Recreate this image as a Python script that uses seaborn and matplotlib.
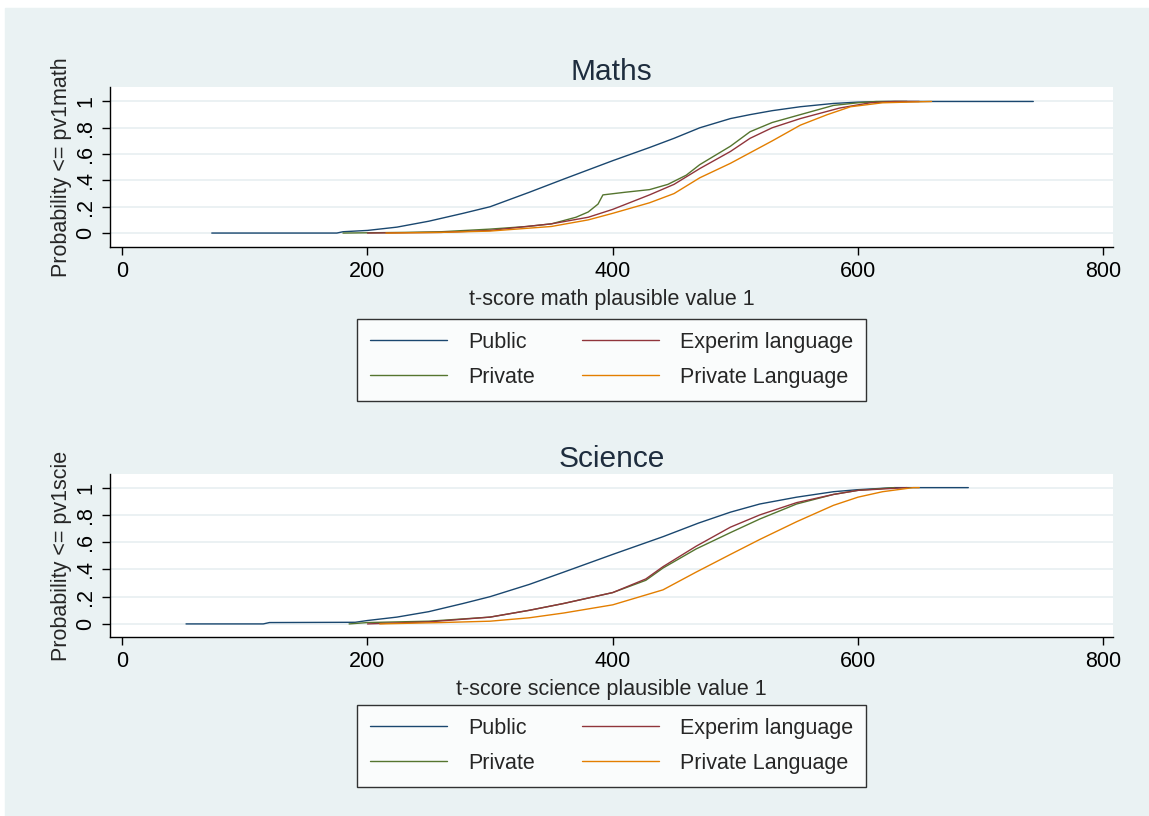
"""
Cumulative distributions of PISA plausible values by school type (Stata-style look).
"""
import pandas as pd
import seaborn as sns
import matplotlib.pyplot as plt
from matplotlib.patches import Rectangle

# --- values: (score, cumulative probability) ---
math_public_x = [73, 175, 180, 200, 224, 250, 278, 300, 332, 360, 400, 430, 450, 471, 496, 512, 530, 553, 580, 600, 625, 743]
math_public_p = [0, 0, 0.01, 0.02, 0.045, 0.09, 0.15, 0.20, 0.31, 0.41, 0.55, 0.65, 0.72, 0.80, 0.87, 0.90, 0.93, 0.96, 0.985, 0.995, 1.0, 1.0]

math_private_x = [180, 230, 260, 300, 330, 350, 370, 380, 388, 392, 410, 430, 445, 460, 471, 496, 512, 530, 553, 580, 600, 615, 640]
math_private_p = [0, 0.005, 0.01, 0.03, 0.05, 0.07, 0.12, 0.16, 0.22, 0.29, 0.31, 0.33, 0.37, 0.44, 0.52, 0.66, 0.77, 0.84, 0.90, 0.97, 0.99, 1.0, 1.0]

math_experim_x = [200, 260, 300, 350, 380, 400, 430, 450, 471, 496, 512, 530, 553, 585, 610, 630, 650]
math_experim_p = [0, 0.005, 0.02, 0.07, 0.12, 0.18, 0.29, 0.37, 0.49, 0.62, 0.72, 0.80, 0.87, 0.95, 0.99, 1.0, 1.0]

math_privlang_x = [215, 260, 300, 350, 380, 400, 430, 450, 471, 496, 512, 530, 553, 575, 594, 620, 660]
math_privlang_p = [0, 0.005, 0.015, 0.05, 0.10, 0.15, 0.23, 0.30, 0.42, 0.53, 0.61, 0.70, 0.82, 0.90, 0.96, 0.99, 1.0]

sci_public_x = [52, 115, 120, 190, 200, 224, 250, 278, 300, 332, 360, 400, 441, 470, 496, 520, 550, 580, 600, 630, 690]
sci_public_p = [0, 0, 0.01, 0.012, 0.025, 0.05, 0.09, 0.15, 0.20, 0.29, 0.38, 0.51, 0.64, 0.74, 0.82, 0.88, 0.93, 0.97, 0.985, 1.0, 1.0]

sci_private_x = [185, 200, 250, 300, 332, 360, 400, 427, 441, 468, 496, 520, 550, 580, 600, 630]
sci_private_p = [0, 0.01, 0.02, 0.05, 0.10, 0.15, 0.23, 0.32, 0.41, 0.55, 0.67, 0.77, 0.88, 0.95, 0.98, 1.0]

sci_experim_x = [200, 250, 300, 332, 360, 400, 427, 441, 468, 496, 520, 550, 580, 600, 640]
sci_experim_p = [0, 0.015, 0.05, 0.10, 0.15, 0.23, 0.33, 0.42, 0.57, 0.71, 0.80, 0.89, 0.95, 0.98, 1.0]

sci_privlang_x = [210, 260, 300, 332, 360, 400, 441, 468, 496, 520, 550, 580, 600, 620, 645, 650]
sci_privlang_p = [0, 0.01, 0.02, 0.045, 0.08, 0.14, 0.25, 0.38, 0.51, 0.62, 0.75, 0.87, 0.93, 0.97, 1.0, 1.0]

groups = ["Public", "Private", "Experim language", "Private Language"]
x_ticks = [0, 200, 400, 600, 800]
y_ticks = [0, 0.2, 0.4, 0.6, 0.8, 1]
y_tick_labels = ["0", ".2", ".4", ".6", ".8", "1"]

# stata s2color
palette = {"Public": "#1a476f", "Private": "#55752f",
           "Experim language": "#90353b", "Private Language": "#e37e00"}
BG = "#eaf2f3"
FS = 15.5


def long_df(series):
    frames = []
    for name, (xs, ps) in series.items():
        frames.append(pd.DataFrame({"score": xs, "prob": ps, "group": name}))
    return pd.concat(frames, ignore_index=True)


math_df = long_df({"Public": (math_public_x, math_public_p),
                   "Private": (math_private_x, math_private_p),
                   "Experim language": (math_experim_x, math_experim_p),
                   "Private Language": (math_privlang_x, math_privlang_p)})
sci_df = long_df({"Public": (sci_public_x, sci_public_p),
                  "Private": (sci_private_x, sci_private_p),
                  "Experim language": (sci_experim_x, sci_experim_p),
                  "Private Language": (sci_privlang_x, sci_privlang_p)})

sns.set_style("white")
plt.rcParams['font.family'] = ['Liberation Sans', 'DejaVu Sans']

W, H = 1149, 816
fig = plt.figure(figsize=(W / 100, H / 100), dpi=100)
fig.patch.set_facecolor("white")
fig.add_artist(Rectangle((5 / W, 0), 1 - 5 / W, 1 - 8 / H,
                         transform=fig.transFigure, color=BG, zorder=-10))

# (data, title, xlabel, ylabel, top px, bottom px, ylim, legend top px)
panels = [
    (math_df, "Maths", "t-score math plausible value 1", "Probability <= pv1math",
     87, 247, (-0.106, 1.11), 319),
    (sci_df, "Science", "t-score science plausible value 1", "Probability <= pv1scie",
     474, 637, (-0.096, 1.10), 705),
]

left_px, right_px = 110, 1113
for df, title, xlab, ylab, top_px, bot_px, ylim, leg_px in panels:
    h_px = bot_px - top_px
    ax = fig.add_axes([left_px / W, 1 - bot_px / H, (right_px - left_px) / W, h_px / H])
    ax.set_facecolor("white")
    for y in y_ticks:
        ax.axhline(y, color="#e8eff1", lw=1.2, zorder=0)
    sns.lineplot(data=df, x="score", y="prob", hue="group", hue_order=groups,
                 palette=palette, estimator=None, sort=False, lw=1.0,
                 legend=False, ax=ax)
    ax.set_xlim(-10, 808)
    ax.set_ylim(*ylim)
    ax.set_xticks(x_ticks)
    ax.set_yticks(y_ticks)
    ax.set_yticklabels(y_tick_labels, rotation=90, va="center")
    ax.tick_params(axis="both", direction="out", length=6, width=1,
                   labelsize=FS, colors="black", left=True, bottom=True, pad=4)
    for side in ["top", "right"]:
        ax.spines[side].set_visible(False)
    for side in ["left", "bottom"]:
        ax.spines[side].set_color("black")
        ax.spines[side].set_linewidth(1)
    ax.set_title(title, fontsize=21.5, color="#1e2d3e", pad=5)
    ax.set_xlabel(xlab, fontsize=FS, va="center")
    ax.set_ylabel(ylab, fontsize=FS, va="center")
    # label centres, measured in pixels on the reference
    ax.xaxis.set_label_coords(0.5, -52 / h_px)
    ax.yaxis.set_label_coords(-(left_px - 62) / (right_px - left_px), 0.5)

    lines = {g: l for g, l in zip(groups, ax.get_lines()[len(y_ticks):])}
    leg = ax.legend([lines[g] for g in groups], groups, ncol=2,
                    loc="upper center",
                    bbox_to_anchor=((left_px + right_px) / 2 / W, 1 - leg_px / H),
                    bbox_transform=fig.transFigure,
                    fontsize=FS, frameon=True, fancybox=False, borderaxespad=0,
                    handlelength=3.6, handletextpad=0.95, columnspacing=2.2,
                    labelspacing=0.65, borderpad=0.6)
    leg.get_frame().set_edgecolor("black")
    leg.get_frame().set_linewidth(1)

plt.savefig("out.png", dpi=100)
